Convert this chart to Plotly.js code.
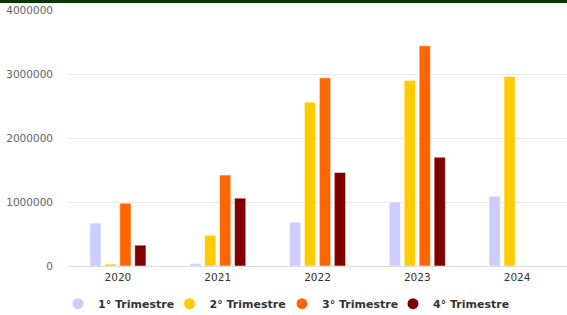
<!DOCTYPE html>
<html>
<head>
<meta charset="utf-8">
<script src="https://cdn.plot.ly/plotly-3.0.1.min.js"></script>
<style>
html,body{margin:0;padding:0;background:#fff;}
#wrap{position:relative;width:567px;height:315px;}
#topbar{position:absolute;left:0;top:0;width:567px;height:3px;background:#013501;z-index:5;}
#chart{width:567px;height:315px;}
</style>
</head>
<body>
<div id="wrap"><div id="topbar"></div><div id="chart"></div></div>
<script>
var years = ['2020', '2021', '2022', '2023', '2024'];
var seriesNames = ['1° Trimestre', '2° Trimestre', '3° Trimestre', '4° Trimestre'];
var q1 = [670000, 35000, 684000, 1000000, 1090000];
var q2 = [30000, 480000, 2560000, 2900000, 2960000];
var q3 = [980000, 1420000, 2940000, 3440000, null];
var q4 = [325000, 1060000, 1460000, 1700000, null];
var colors = ['#ccccff', '#ffcc00', '#ff6600', '#800000'];
var yTicks = [0, 1000000, 2000000, 3000000, 4000000];

var W = 567;
var legendLeftPx = [58, 169.5, 282, 393];
var legendIds = ['legend', 'legend2', 'legend3', 'legend4'];

var values = [q1, q2, q3, q4];
var traces = [];
values.forEach(function (v, i) {
  traces.push({
    type: 'bar', x: years, y: v, name: seriesNames[i], showlegend: false,
    legendgroup: 'g' + i,
    marker: {color: colors[i], line: {color: 'rgba(255,255,255,0.5)', width: 1}},
    hoverinfo: 'x+y+name'
  });
});
values.forEach(function (v, i) {
  traces.push({
    type: 'scatter', mode: 'markers', x: [null], y: [null], name: seriesNames[i],
    legendgroup: 'g' + i, legend: legendIds[i],
    marker: {color: colors[i], symbol: 'circle', size: 11}
  });
});

var layout = {
  width: 567, height: 315,
  margin: {l: 68, r: 0, t: 10, b: 49},
  paper_bgcolor: '#fff', plot_bgcolor: '#fff',
  barmode: 'group', bargap: 0.4, bargroupgap: 0.25,
  font: {family: 'DejaVu Sans, Verdana, sans-serif', size: 10, color: '#333'},
  xaxis: {
    type: 'category', range: [-0.5, 4.5], showgrid: false, zeroline: false,
    showline: false, ticks: '', ticklabelstandoff: 3,
    tickfont: {size: 10.5, color: '#333'}, fixedrange: true, automargin: false
  },
  yaxis: {
    range: [0, 4000000], tickvals: yTicks, tickformat: 'd',
    showgrid: true, gridcolor: '#e8e8e8', gridwidth: 1,
    zeroline: true, zerolinecolor: '#dcdcdc', zerolinewidth: 1,
    showline: false, ticks: '', ticklabelstandoff: 14,
    tickfont: {size: 10.5, color: '#666'}, fixedrange: true, automargin: false
  },
  showlegend: true
};
legendIds.forEach(function (id, i) {
  layout[id] = {
    orientation: 'h', xref: 'container', yref: 'container',
    x: legendLeftPx[i] / W, xanchor: 'left', y: 0.036, yanchor: 'middle',
    font: {size: 11, color: '#333', weight: 'bold'},
    bgcolor: 'rgba(0,0,0,0)',
    itemclick: false, itemdoubleclick: false
  };
});

Plotly.newPlot('chart', traces, layout, {displayModeBar: false, staticPlot: true});
</script>
</body>
</html>
